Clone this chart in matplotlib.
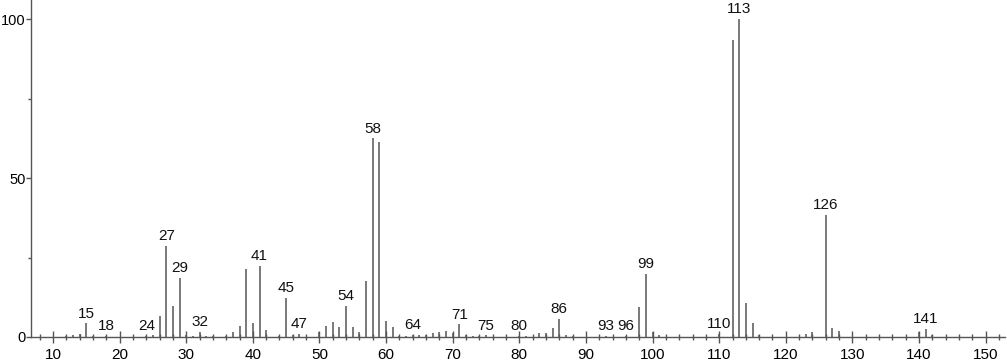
import matplotlib
matplotlib.use("Agg")
import matplotlib.pyplot as plt
from matplotlib.ticker import MultipleLocator

plt.rcParams['font.family'] = ['Liberation Sans', 'DejaVu Sans']

mz = [12, 13, 14, 15, 16, 18, 24, 25, 26, 27, 28, 29, 30, 31, 32, 33, 34, 36,
      37, 38, 39, 40, 41, 42, 44, 45, 46, 47, 50, 51, 52, 53, 54, 55, 56, 57,
      58, 59, 60, 61, 62, 63, 64, 65, 66, 67, 68, 69, 70, 71, 72, 73, 74, 75,
      80, 81, 83, 84, 85, 86, 87, 88, 93, 96, 98, 99, 100, 101, 110, 112, 113,
      114, 115, 116, 123, 124, 126, 127, 128, 140, 141, 142]
intensity = [0.4, 0.5, 0.8, 4.3, 0.4, 0.4, 0.4, 0.5, 6.6, 28.7, 9.7, 18.5, 0.6,
             0.3, 1.5, 0.4, 0.3, 0.3, 1.6, 3.4, 21.3, 4.5, 22.3, 2.3, 0.4, 12.4,
             0.6, 1.1, 1.7, 3.4, 4.7, 3.1, 9.8, 3.1, 1.7, 17.7, 62.5, 61.2, 5.0,
             3.0, 0.4, 0.4, 0.7, 0.5, 0.6, 1.3, 1.6, 1.9, 1.2, 4.0, 0.6, 0.4, 0.3,
             0.5, 0.4, 0.4, 1.2, 1.3, 2.7, 5.8, 0.5, 0.4, 0.4, 0.4, 9.4, 19.9,
             1.5, 0.6, 1.0, 93.4, 100.0, 10.6, 4.4, 0.6, 0.8, 1.6, 38.4, 2.9, 1.9,
             1.7, 2.6, 0.5]
labeled = [15, 18, 24, 27, 29, 32, 41, 45, 47, 54, 58, 64, 71, 75, 80, 86, 93,
           96, 99, 110, 113, 126, 141]

fig = plt.figure(figsize=(10.07, 3.62), dpi=100)
ax = fig.add_axes([31 / 1007, 25 / 362, (1005 - 31) / 1007, 337 / 362])

ax.vlines(mz, 0, intensity, colors='#555555', linewidth=1.1)

lookup = dict(zip(mz, intensity))
for m in labeled:
    ax.annotate(str(m), (m, lookup.get(m, 0.3)), xytext=(0, 2),
                textcoords='offset points', ha='center', va='bottom',
                fontsize=11, color='#111111')

ax.set_xlim(6.7, 152.9)
ax.set_ylim(0, 106)
for s in ['top', 'right']:
    ax.spines[s].set_visible(False)
for s in ['left', 'bottom']:
    ax.spines[s].set_color('#555555')
    ax.spines[s].set_linewidth(1.0)

ax.xaxis.set_major_locator(MultipleLocator(10))
ax.xaxis.set_minor_locator(MultipleLocator(2))
ax.yaxis.set_major_locator(MultipleLocator(50))
ax.yaxis.set_minor_locator(MultipleLocator(25))
ax.set_xticks(range(10, 151, 10))
ax.tick_params(axis='x', which='major', direction='inout', length=8, width=1,
               color='#555555', labelsize=11, pad=4)
ax.tick_params(axis='x', which='minor', direction='inout', length=4, width=1,
               color='#555555')
ax.tick_params(axis='y', which='major', direction='out', length=3.5, width=1,
               color='#555555', labelsize=10.5, pad=0.5)
ax.tick_params(axis='y', which='minor', direction='out', length=2.5, width=1,
               color='#555555')

fig.savefig('out.png', dpi=100)
